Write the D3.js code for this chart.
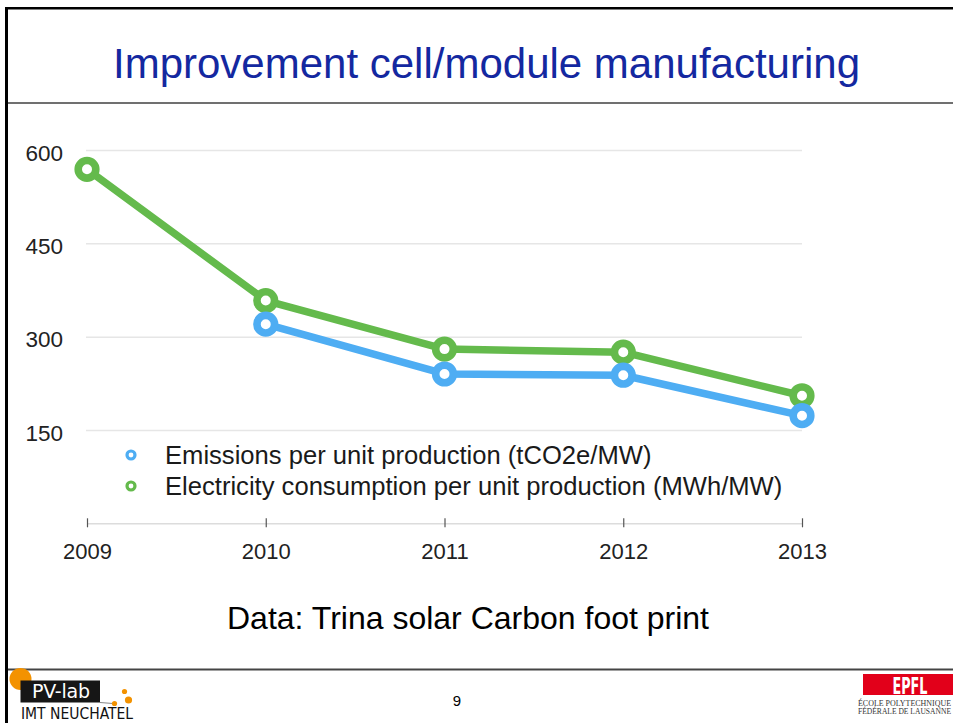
<!DOCTYPE html>
<html>
<head>
<meta charset="utf-8">
<script src="https://cdn.jsdelivr.net/npm/d3@7"></script>
<style>
  html, body { margin: 0; padding: 0; background: #fff; }
  svg { display: block; font-family: "Liberation Sans", Arial, Helvetica, sans-serif; }
</style>
</head>
<body>
<svg id="chart" width="953" height="723"></svg>
<script>
// ---- data ----
const title = "Improvement cell/module manufacturing";
const caption = "Data: Trina solar Carbon foot print";
const pageNumber = "9";
const years = ["2009", "2010", "2011", "2012", "2013"];
const emissions = [null, 320, 240, 238, 173];        // tCO2e/MW
const electricity = [569, 358, 280, 275, 205];       // MWh/MW
const yTicks = [150, 300, 450, 600];
const seriesNames = [
  "Emissions per unit production (tCO2e/MW)",
  "Electricity consumption per unit production (MWh/MW)"
];
const seriesColors = ["#4eadf3", "#64ba4c"];

const svg = d3.select("#chart");

// ---- slide frame ----
svg.append("rect").attr("x", 0).attr("y", 0).attr("width", 953).attr("height", 723).attr("fill", "#fff");
svg.append("line").attr("x1", 5).attr("x2", 953).attr("y1", 8.3).attr("y2", 8.3)
  .attr("stroke", "#000").attr("stroke-width", 2.6);
svg.append("line").attr("x1", 6.5).attr("x2", 6.5).attr("y1", 7).attr("y2", 723)
  .attr("stroke", "#000").attr("stroke-width", 3);
svg.append("line").attr("x1", 8).attr("x2", 953).attr("y1", 103).attr("y2", 103)
  .attr("stroke", "#707070").attr("stroke-width", 2);
svg.append("line").attr("x1", 8).attr("x2", 953).attr("y1", 669.5).attr("y2", 669.5)
  .attr("stroke", "#444").attr("stroke-width", 2);

// title
svg.append("text").attr("x", 486.5).attr("y", 77.5).attr("text-anchor", "middle")
  .attr("font-size", 42).attr("fill", "#1428a0").text(title);

// ---- chart ----
const x = d3.scalePoint().domain(years).range([87, 802]);
const y = d3.scaleLinear().domain([0, 600]).range([523.3, 150]);

// y axis with gridlines
const yAxis = d3.axisLeft(y).tickValues(yTicks).tickSizeInner(-(802 - 86)).tickSizeOuter(0).tickPadding(23);
const gy = svg.append("g").attr("transform", "translate(86,0)").call(yAxis);
gy.select(".domain").remove();
gy.selectAll(".tick line").attr("stroke", "#e6e6e6").attr("stroke-width", 1.5);
gy.selectAll(".tick text").attr("font-size", 22.5).attr("fill", "#222")
  .attr("font-family", "Liberation Sans, Arial, sans-serif").attr("dy", "0.45em");

// x axis
const xAxis = d3.axisBottom(x).tickSizeInner(4).tickSizeOuter(0);
const gx = svg.append("g").attr("transform", `translate(0,${y(0)})`).call(xAxis);
gx.select(".domain").attr("stroke", "#dcdcdc").attr("stroke-width", 1.5);
gx.selectAll(".tick line").attr("y1", -5).attr("y2", 4).attr("stroke", "#555").attr("stroke-width", 1.2);
gx.selectAll(".tick text").attr("font-size", 22).attr("fill", "#222")
  .attr("font-family", "Liberation Sans, Arial, sans-serif").attr("y", 20);

// lines
const series = [electricity, emissions];
const colors = [seriesColors[1], seriesColors[0]];
const line = d3.line()
  .defined(d => d.v != null)
  .x(d => x(d.year))
  .y(d => y(d.v));

series.forEach((vals, i) => {
  const data = years.map((yr, j) => ({ year: yr, v: vals[j] }));
  const g = svg.append("g");
  g.append("path").datum(data).attr("d", line)
    .attr("fill", "none").attr("stroke", colors[i]).attr("stroke-width", 7.5)
    .attr("stroke-linejoin", "round");
  g.selectAll("circle").data(data.filter(d => d.v != null)).enter().append("circle")
    .attr("cx", d => x(d.year)).attr("cy", d => y(d.v)).attr("r", 8.8)
    .attr("fill", "#fff").attr("stroke", colors[i]).attr("stroke-width", 7.6);
});

// legend
const legend = svg.append("g");
seriesNames.forEach((name, i) => {
  const ly = 455 + i * 31;
  legend.append("circle").attr("cx", 131).attr("cy", ly).attr("r", 4)
    .attr("fill", "#fff").attr("stroke", seriesColors[i]).attr("stroke-width", 3.2);
  legend.append("text").attr("x", 165).attr("y", ly + 8.8)
    .attr("font-size", 25.6).attr("fill", "#1a1a1a").text(name);
});

// caption
svg.append("text").attr("x", 468).attr("y", 629).attr("text-anchor", "middle")
  .attr("font-size", 32).attr("fill", "#000").text(caption);

// page number
svg.append("text").attr("x", 457).attr("y", 706).attr("text-anchor", "middle")
  .attr("font-size", 15).attr("fill", "#000").text(pageNumber);

// ---- PV-lab logo ----
const orange = "#f39200";
svg.append("circle").attr("cx", 20.5).attr("cy", 679).attr("r", 11).attr("fill", orange);
svg.append("rect").attr("x", 20.5).attr("y", 680.5).attr("width", 79.5).attr("height", 22).attr("fill", "#161616");
svg.append("text").attr("x", 32).attr("y", 698).attr("font-size", 19).attr("fill", "#fff")
  .attr("font-family", "DejaVu Sans, sans-serif").attr("textLength", 58).text("PV-lab");
svg.append("line").attr("x1", 100).attr("x2", 113).attr("y1", 702.5).attr("y2", 703.5)
  .attr("stroke", "#888").attr("stroke-width", 1);
svg.append("circle").attr("cx", 114.5).attr("cy", 703.5).attr("r", 2.6).attr("fill", orange);
svg.append("circle").attr("cx", 124.5).attr("cy", 691.5).attr("r", 2.6).attr("fill", orange);
svg.append("circle").attr("cx", 128.5).attr("cy", 700).attr("r", 3.6).attr("fill", orange);
svg.append("text").attr("x", 21).attr("y", 719).attr("font-size", 15).attr("fill", "#111")
  .attr("font-family", "DejaVu Sans Condensed, Liberation Sans Narrow, sans-serif")
  .attr("textLength", 112).attr("lengthAdjust", "spacingAndGlyphs").text("IMT NEUCHATEL");

// ---- EPFL logo ----
svg.append("rect").attr("x", 863).attr("y", 674).attr("width", 90).attr("height", 21).attr("fill", "#e2001a");
svg.append("text").attr("x", 910).attr("y", 693.5).attr("text-anchor", "middle")
  .attr("font-size", 23).attr("font-weight", "bold").attr("fill", "#fff")
  .attr("font-family", "DejaVu Sans Condensed, Liberation Sans Narrow, sans-serif")
  .attr("textLength", 35).attr("lengthAdjust", "spacingAndGlyphs").text("EPFL");
svg.append("text").attr("x", 858).attr("y", 706).attr("font-size", 7.5).attr("fill", "#333")
  .attr("font-family", "Liberation Serif, DejaVu Serif, serif")
  .attr("textLength", 93).attr("lengthAdjust", "spacingAndGlyphs")
  .text("ÉCOLE POLYTECHNIQUE");
svg.append("text").attr("x", 858).attr("y", 714).attr("font-size", 7.5).attr("fill", "#333")
  .attr("font-family", "Liberation Serif, DejaVu Serif, serif")
  .attr("textLength", 93).attr("lengthAdjust", "spacingAndGlyphs")
  .text("FÉDÉRALE DE LAUSANNE");
</script>
</body>
</html>
